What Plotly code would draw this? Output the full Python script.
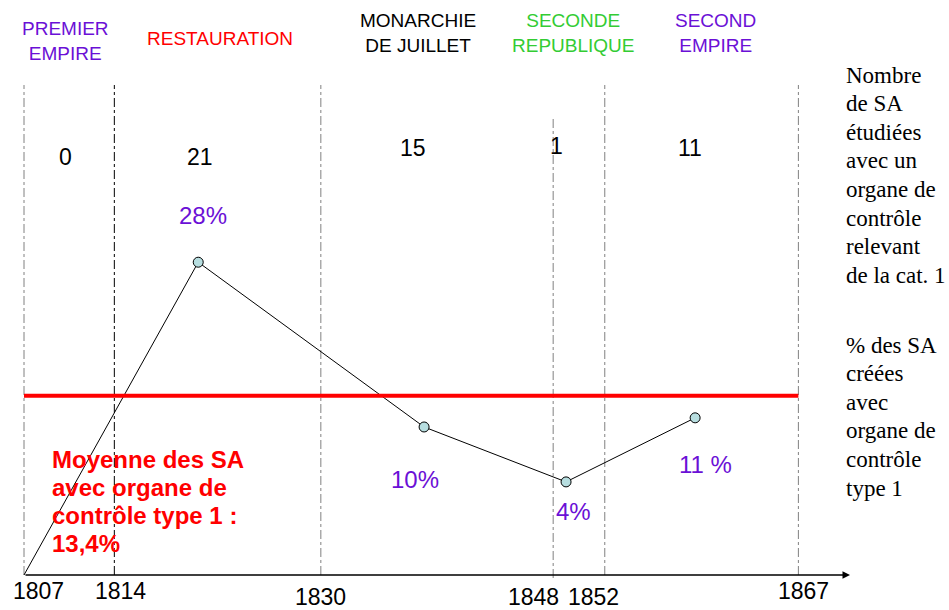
import plotly.graph_objects as go

# ---------------- data ----------------
periods = ["PREMIER<br>EMPIRE", "RESTAURATION", "MONARCHIE<br>DE JUILLET",
           "SECONDE<br>REPUBLIQUE", "SECOND<br>EMPIRE"]
period_colors = ["#6B10D6", "#FF0000", "#000000", "#33CC33", "#6B10D6"]
boundary_years = [1807, 1814, 1830, 1848, 1852, 1867]
tick_labels = ["1807", "1814", "1830", "1848", "1852", "1867"]
sa_counts = [0, 21, 15, 1, 11]
point_years = [1820.5, 1838, 1849, 1859]
pct_values = [28, 10, 4, 11]
pct_labels = ["28%", "10%", "4%", "11 %"]
mean_pct = 13.4
mean_label = ["Moyenne des SA", "avec organe de", "contrôle type 1 :", "13,4%"]
right_label_1 = ["Nombre", "de SA", "étudiées", "avec un", "organe de", "contrôle",
                 "relevant", "de la cat. 1"]
right_label_2 = ["% des SA", "créées", "avec", "organe de", "contrôle", "type 1"]

# ---------------- layout helpers ----------------
W, H = 949, 610
ML, MR, MT, MB = 20, 99, 60, 35
PW, PH = W - ML - MR, H - MT - MB
X_MIN, X_MAX = 1806.69, 1871.0
Y_MIN, Y_MAX = -6.17, 50.09

def px(x):
    return (x - ML) / PW

def py(y):
    return (H - MB - y) / PH

SANS = "Liberation Sans, Arial, sans-serif"
SERIF = "Liberation Serif, Times New Roman, serif"
PURPLE = "#6B10D6"

fig = go.Figure()

# line from the axis origin through the points
fig.add_trace(go.Scatter(
    x=[boundary_years[0]] + point_years, y=[Y_MIN] + pct_values,
    mode="lines", line=dict(color="black", width=1), hoverinfo="skip",
    showlegend=False))
# mean line
fig.add_trace(go.Scatter(
    x=[boundary_years[0], boundary_years[-1]], y=[mean_pct, mean_pct],
    mode="lines", line=dict(color="#FF0000", width=4), showlegend=False))
# markers
fig.add_trace(go.Scatter(
    x=point_years, y=pct_values, mode="markers",
    marker=dict(size=10, color="#B7DEE0", line=dict(color="black", width=1)),
    showlegend=False))

shapes = []
for i, yr in enumerate(boundary_years):
    shapes.append(dict(
        type="line", xref="x", yref="paper", x0=yr, x1=yr,
        y0=py(578) if i == 3 else 0, y1=py(85) if i != 3 else py(118),
        line=dict(color="black" if i == 1 else "#808080", width=1, dash="dashdot"),
        layer="below"))

annotations = []
# x axis with arrow
annotations.append(dict(
    x=X_MAX, y=Y_MIN, ax=boundary_years[0], ay=Y_MIN, xref="x", yref="y",
    axref="x", ayref="y", text="", showarrow=True, arrowhead=2, arrowsize=1,
    arrowwidth=1.5, arrowcolor="black", standoff=0, startstandoff=0))

# period titles
title_pos = [(65, 41), (220, 38), (418, 33), (573, 33), (715, 33)]
for name, col, (tx, ty) in zip(periods, period_colors, title_pos):
    annotations.append(dict(
        x=px(tx), y=py(ty), xref="paper", yref="paper", text=name,
        showarrow=False, xanchor="center", yanchor="middle",
        font=dict(family=SANS, size=19, color=col)))

# counts
count_pos = [(65, 157), (200, 157), (413, 148), (556, 146), (690, 148)]
for c, (tx, ty) in zip(sa_counts, count_pos):
    annotations.append(dict(
        x=px(tx), y=py(ty), xref="paper", yref="paper", text=str(c),
        showarrow=False, xanchor="center", yanchor="middle",
        font=dict(family=SANS, size=23, color="black")))

# percentage labels
pct_shift = [(5, 47), (-9, -53), (7, -30), (10, -47)]
for xv, yv, lab, (dx, dy) in zip(point_years, pct_values, pct_labels, pct_shift):
    annotations.append(dict(
        x=xv, y=yv, xref="x", yref="y", text=lab, showarrow=False,
        xshift=dx, yshift=dy, font=dict(family=SANS, size=24, color=PURPLE)))

# year tick labels
tick_pos = [(38, 591), (120, 591), (320, 597), (533, 597), (593, 597), (803, 591)]
for lab, (tx, ty) in zip(tick_labels, tick_pos):
    annotations.append(dict(
        x=px(tx), y=py(ty), xref="paper", yref="paper", text=lab,
        showarrow=False, xanchor="center", yanchor="middle",
        font=dict(family=SANS, size=23, color="black")))

# mean text, one line at a time
for k, line in enumerate(mean_label):
    annotations.append(dict(
        x=px(50), y=py(459 + 28.3 * k), xref="paper", yref="paper",
        text="<b>" + line + "</b>", showarrow=False, xanchor="left",
        yanchor="middle", font=dict(family=SANS, size=24, color="#FF0000")))

# right side notes
for k, line in enumerate(right_label_1):
    annotations.append(dict(
        x=px(844), y=py(75 + 28.6 * k), xref="paper", yref="paper", text=line,
        showarrow=False, xanchor="left", yanchor="middle",
        font=dict(family=SERIF, size=23, color="black")))
for k, line in enumerate(right_label_2):
    annotations.append(dict(
        x=px(844), y=py(345 + 28.6 * k), xref="paper", yref="paper", text=line,
        showarrow=False, xanchor="left", yanchor="middle",
        font=dict(family=SERIF, size=23, color="black")))

fig.update_layout(
    width=W, height=H, margin=dict(l=ML, r=MR, t=MT, b=MB),
    paper_bgcolor="white", plot_bgcolor="white",
    xaxis=dict(range=[X_MIN, X_MAX], showgrid=False, zeroline=False,
               showticklabels=False, showline=False, ticks=""),
    yaxis=dict(range=[Y_MIN, Y_MAX], showgrid=False, zeroline=False,
               showticklabels=False, showline=False, ticks=""),
    shapes=shapes, annotations=annotations, showlegend=False)

fig.write_html("out.html",
               config={"displayModeBar": False},
               post_script="document.body.style.margin='0';"
                           "document.body.style.overflow='hidden';")
